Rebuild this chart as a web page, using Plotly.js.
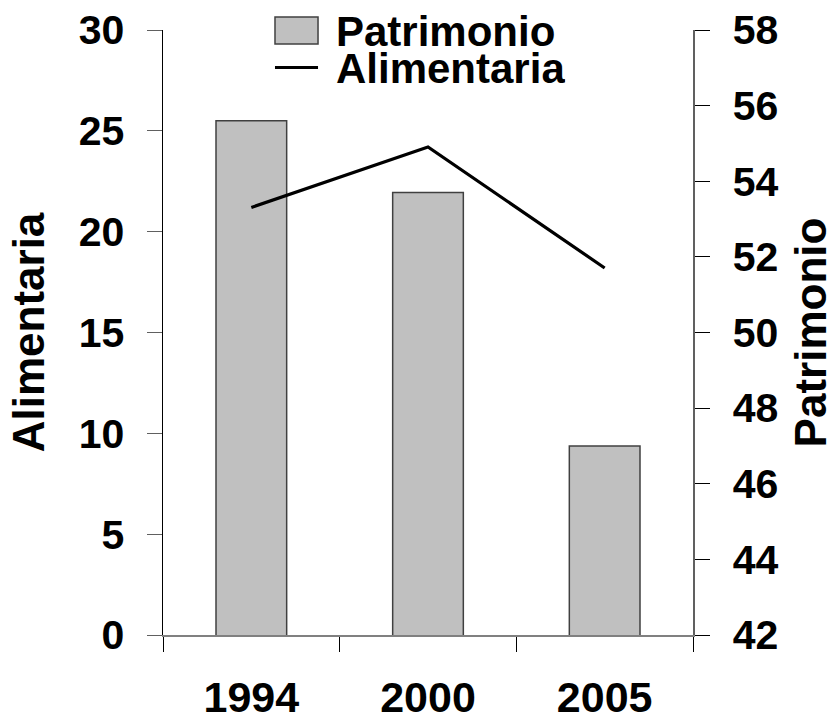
<!DOCTYPE html>
<html>
<head>
<meta charset="utf-8">
<script src="https://cdn.plot.ly/plotly-3.0.1.min.js"></script>
<style>html,body{margin:0;padding:0;background:#fff;}#chart{width:835px;height:720px;}</style>
</head>
<body>
<div id="chart"></div>
<script>
const years = ['1994', '2000', '2005'];
const patrimonio = [55.6, 53.7, 47.0];
const alimentaria = [21.2, 24.2, 18.2];
const leftTicks = [0, 5, 10, 15, 20, 25, 30];
const rightTicks = [42, 44, 46, 48, 50, 52, 54, 56, 58];
const seriesNames = ['Patrimonio', 'Alimentaria'];

const FONT = 'Liberation Sans, Arial, sans-serif';
const bold = (size) => ({family: FONT, size: size, color: '#000', weight: 'bold'});

const BAR_FILL = '#c0c0c0', BAR_EDGE = '#404040', LINE_COLOR = '#000';

const traces = [
  {
    type: 'bar', name: seriesNames[0], x: years, y: patrimonio, yaxis: 'y',
    marker: {color: BAR_FILL, line: {color: BAR_EDGE, width: 1.5}},
    hoverinfo: 'skip'
  },
  {
    type: 'scatter', mode: 'lines', name: seriesNames[1], x: years, y: alimentaria, yaxis: 'y2',
    line: {color: LINE_COLOR, width: 3.2}, hoverinfo: 'skip'
  }
];

// legend drawn as shapes + text in paper space (compact, like the reference)
const legendShapes = [
  {type: 'rect', xref: 'paper', yref: 'paper', x0: 0.2113, x1: 0.2925, y0: 0.9769, y1: 1.0215,
   fillcolor: BAR_FILL, line: {color: BAR_EDGE, width: 1.5}},
  {type: 'line', xref: 'paper', yref: 'paper', x0: 0.2113, x1: 0.2925, y0: 0.9380, y1: 0.9380,
   line: {color: LINE_COLOR, width: 3}}
];
const legendTexts = [
  {xref: 'paper', yref: 'paper', x: 0.322, y: 0.998, xanchor: 'left', yanchor: 'middle',
   text: seriesNames[0], showarrow: false, font: bold(42), height: 34, valign: 'middle'},
  {xref: 'paper', yref: 'paper', x: 0.322, y: 0.938, xanchor: 'left', yanchor: 'middle',
   text: seriesNames[1], showarrow: false, font: bold(42), height: 34, valign: 'middle'}
];

const layout = {
  width: 835, height: 720,
  margin: {l: 163, r: 142, t: 30, b: 85},
  paper_bgcolor: '#fff', plot_bgcolor: '#fff',
  bargap: 0.6,
  showlegend: false,
  shapes: legendShapes,
  annotations: legendTexts,
  xaxis: {
    type: 'category', categoryarray: years, range: [-0.5, 2.5],
    tickson: 'boundaries', ticks: 'outside', ticklen: 15, tickcolor: '#000', tickwidth: 1,
    showline: true, linecolor: '#808080', linewidth: 1.5,
    showgrid: false, zeroline: false,
    tickfont: bold(43),
    ticklabelstandoff: 24
  },
  yaxis: {
    side: 'right', range: [42, 58], tickvals: rightTicks, ticktext: rightTicks.map(String),
    ticks: 'outside', ticklen: 15, tickcolor: '#000', tickwidth: 1,
    showline: true, linecolor: '#606060', linewidth: 1.5,
    showgrid: false, zeroline: false,
    tickfont: bold(41), ticklabelstandoff: 15,
    title: {text: 'Patrimonio', font: bold(44), standoff: 24}
  },
  yaxis2: {
    overlaying: 'y', side: 'left', range: [0, 30], tickvals: leftTicks, ticktext: leftTicks.map(String),
    ticks: 'outside', ticklen: 15, tickcolor: '#606060', tickwidth: 1,
    showline: true, linecolor: '#000', linewidth: 1.5,
    showgrid: false, zeroline: false,
    tickfont: bold(41), ticklabelstandoff: 14,
    title: {text: 'Alimentaria', font: bold(44), standoff: 20}
  }
};

Plotly.newPlot('chart', traces, layout, {staticPlot: true, displayModeBar: false});
</script>
</body>
</html>
